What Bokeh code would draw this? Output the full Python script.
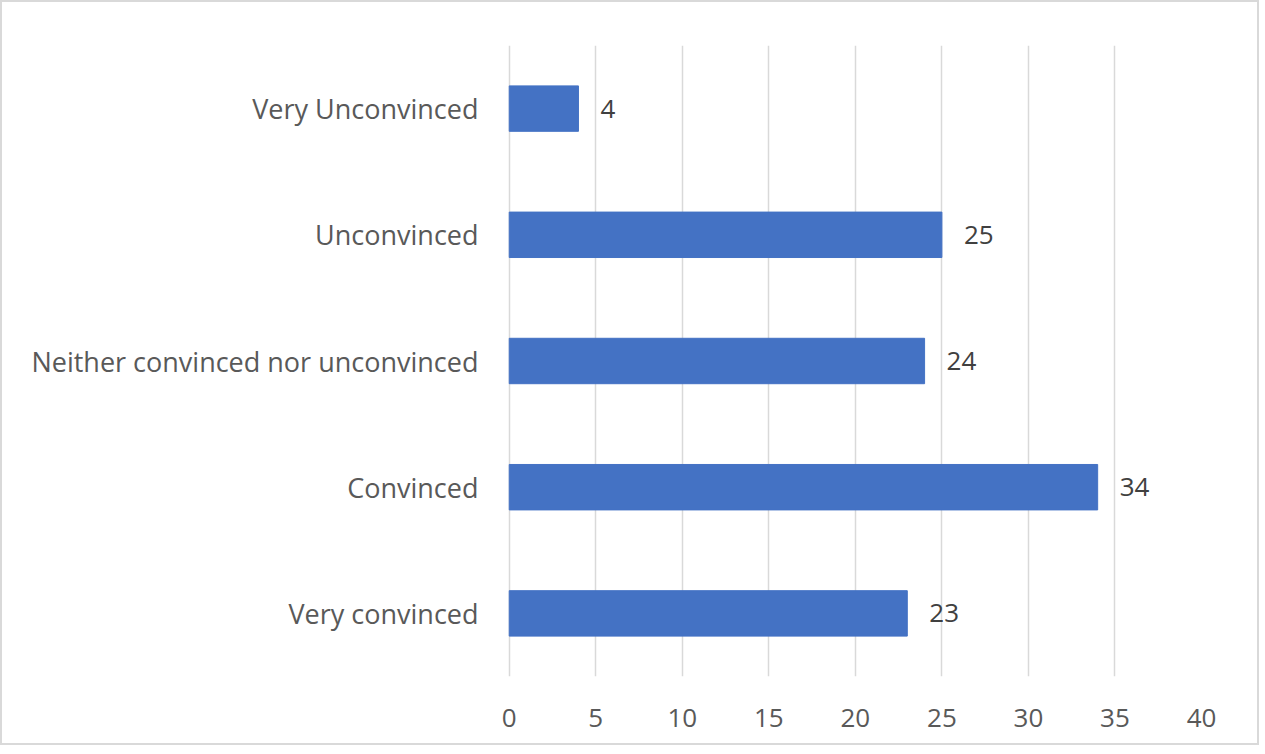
from bokeh.plotting import figure
from bokeh.models import Range1d, FixedTicker, ColumnDataSource
from bokeh.core.properties import value
from bokeh.embed import file_html
from bokeh.resources import INLINE

categories = ["Very convinced", "Convinced", "Neither convinced nor unconvinced", "Unconvinced", "Very Unconvinced"]
counts = [23, 34, 24, 25, 4]
x_ticks = [0, 5, 10, 15, 20, 25, 30, 35, 40]

FONT = "Open Sans"

src = ColumnDataSource(dict(cat=categories, val=counts, lab=[str(v) for v in counts]))

p = figure(y_range=categories, x_range=Range1d(-0.1, 40), width=1259, height=745,
           output_backend="svg", toolbar_location=None,
           min_border_left=505, min_border_right=60, min_border_top=43, min_border_bottom=71)
p.styles = {"border": "2px solid #d9d9d9"}
p.outline_line_color = None
p.background_fill_color = "white"
p.border_fill_color = "white"

p.hbar(y="cat", right="val", left=0, height=0.36, source=src, color="#4472C4")
p.text(x="val", y="cat", text="lab", source=src, x_offset=22, text_baseline="middle",
       text_align="left", text_font=value(FONT), text_font_size="26px", text_color="#404040")

p.xaxis.ticker = FixedTicker(ticks=x_ticks)
p.xgrid.ticker = FixedTicker(ticks=x_ticks)
p.xgrid.grid_line_color = "#d9d9d9"
p.xgrid.grid_line_width = 1.5
p.ygrid.grid_line_color = None

for ax in (p.xaxis, p.yaxis):
    ax.axis_line_color = None
    ax.major_tick_line_color = None
    ax.minor_tick_line_color = None
    ax.major_label_text_font = FONT
    ax.major_label_text_color = "#595959"

p.xaxis.major_label_text_font_size = "26px"
p.yaxis.major_label_text_font_size = "27px"
p.xaxis.major_label_standoff = 26
p.yaxis.major_label_standoff = 23

open("out.html", "w").write(file_html(p, INLINE))
